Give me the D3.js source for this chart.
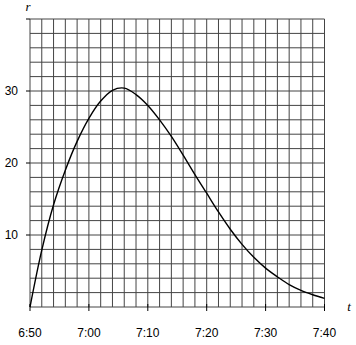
<!DOCTYPE html>
<html>
<head>
<meta charset="utf-8">
<script src="https://cdn.jsdelivr.net/npm/d3@7"></script>
<style>
  body { margin: 0; background: #fff; }
  svg { display: block; }
</style>
</head>
<body>
<script>
// minutes after 6:50, read every 2 minutes
const minutes = [0, 2, 4, 6, 8, 10, 12, 14, 16, 18, 20, 22, 24, 26, 28, 30, 32, 34, 36, 38, 40, 42, 44, 46, 48, 50];
const rValues = [0, 7.9, 14.2, 19.0, 23.0, 26.2, 28.6, 30.1, 30.4, 29.5, 28.0, 26.0, 23.7, 21.1, 18.4, 15.8, 13.2, 10.8, 8.7, 6.9, 5.4, 4.2, 3.1, 2.3, 1.7, 1.2];
const yTicks = [10, 20, 30, 40];
const yLabels = ["10", "20", "30", ""];

const width = 356, height = 345;
const t0 = new Date(2000, 0, 1, 6, 50);
const t1 = new Date(2000, 0, 1, 7, 40);
const toTime = m => new Date(t0.getTime() + m * 60000);

const svg = d3.select("body").append("svg")
  .attr("width", width)
  .attr("height", height);

const x = d3.scaleTime().domain([t0, t1]).range([30, 324.5]);
const y = d3.scaleLinear().domain([0, 40]).range([307, 19]);

// grid: every 2 minutes, every 2 units
const grid = svg.append("g").attr("stroke", "#444").attr("stroke-width", 1);
grid.selectAll("line.v")
  .data(d3.timeMinute.every(2).range(t0, new Date(t1.getTime() + 1)))
  .join("line")
    .attr("class", "v")
    .attr("x1", d => x(d)).attr("x2", d => x(d))
    .attr("y1", y(0)).attr("y2", y(40));
grid.selectAll("line.h")
  .data(d3.range(0, 41, 2))
  .join("line")
    .attr("class", "h")
    .attr("x1", x(t0)).attr("x2", x(t1))
    .attr("y1", d => y(d)).attr("y2", d => y(d));

// y ticks
svg.append("g")
  .selectAll("line")
  .data(yTicks)
  .join("line")
    .attr("x1", x(t0) - 4).attr("x2", x(t0))
    .attr("y1", d => y(d)).attr("y2", d => y(d))
    .attr("stroke", "#000");
svg.append("g")
  .selectAll("text")
  .data(yTicks)
  .join("text")
    .attr("x", 18)
    .attr("y", d => y(d) + 4)
    .attr("text-anchor", "end")
    .attr("font-family", "Liberation Sans, Arial, sans-serif")
    .attr("font-size", "12px")
    .text((d, i) => yLabels[i]);

// x ticks
const xTicks = d3.timeMinute.every(10).range(t0, new Date(t1.getTime() + 1));
svg.append("g")
  .selectAll("line")
  .data(xTicks)
  .join("line")
    .attr("x1", d => x(d)).attr("x2", d => x(d))
    .attr("y1", y(0) - 3).attr("y2", y(0) + 4)
    .attr("stroke", "#000");
svg.append("g")
  .selectAll("text")
  .data(xTicks)
  .join("text")
    .attr("x", d => x(d))
    .attr("y", 337)
    .attr("text-anchor", "middle")
    .attr("font-family", "Liberation Sans, Arial, sans-serif")
    .attr("font-size", "12px")
    .text(d3.timeFormat("%-H:%M"));

// axis letters
svg.append("text")
  .attr("x", 28).attr("y", 11)
  .attr("text-anchor", "middle")
  .attr("font-family", "Liberation Serif, serif")
  .attr("font-style", "italic")
  .attr("font-size", "13px")
  .text("r");
svg.append("text")
  .attr("x", 349).attr("y", 311)
  .attr("text-anchor", "middle")
  .attr("font-family", "Liberation Serif, serif")
  .attr("font-style", "italic")
  .attr("font-size", "13px")
  .text("t");

// curve
const line = d3.line()
  .x((d, i) => x(toTime(minutes[i])))
  .y(d => y(d))
  .curve(d3.curveCatmullRom.alpha(0.5));
svg.append("path")
  .datum(rValues)
  .attr("d", line)
  .attr("fill", "none")
  .attr("stroke", "#000")
  .attr("stroke-width", 1.4);
</script>
</body>
</html>
